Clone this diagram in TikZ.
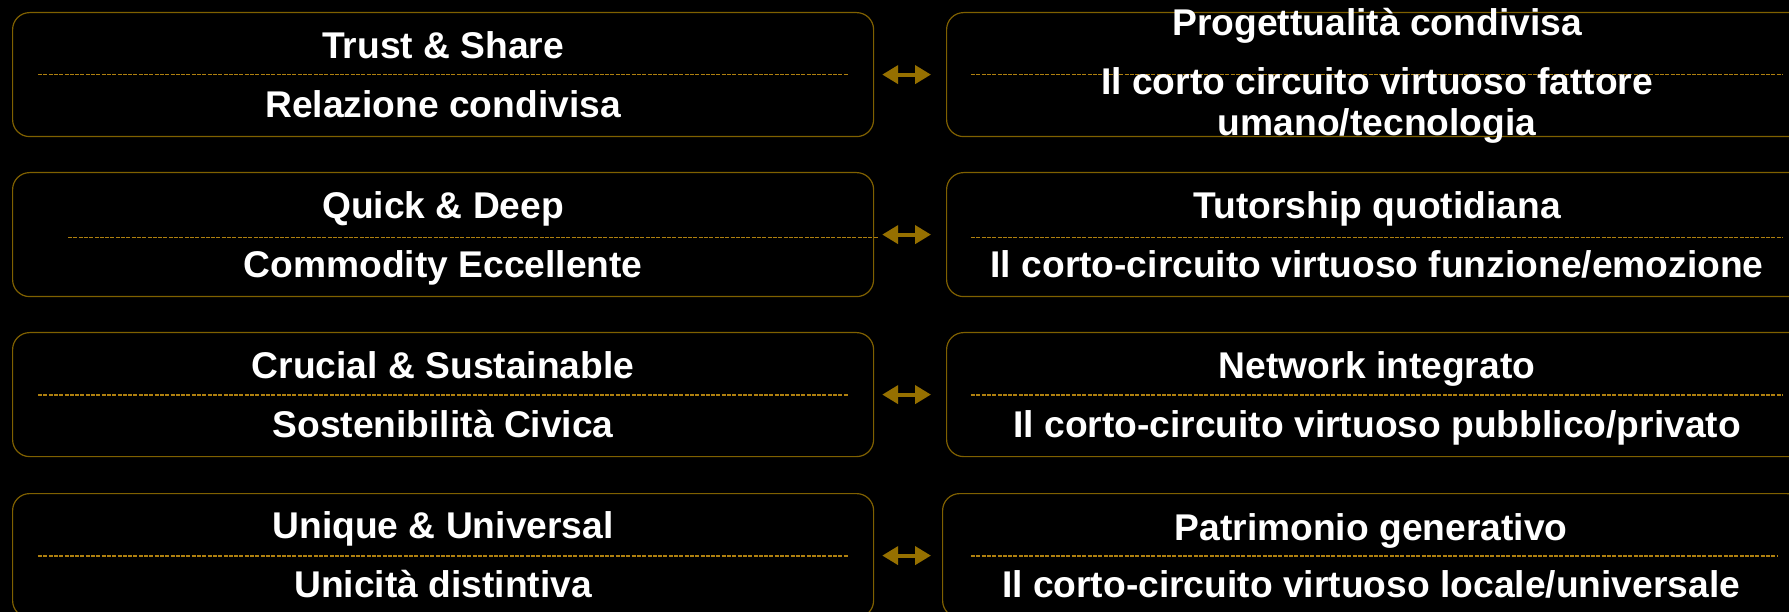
\documentclass[tikz,border=0pt]{standalone}
\usepackage{fontspec}
\setmainfont{Liberation Sans}
\usetikzlibrary{arrows.meta}
\definecolor{gold}{RGB}{127,96,0}
\definecolor{arrgold}{RGB}{150,112,0}
\definecolor{dashgold}{RGB}{175,128,15}
\begin{document}
\begin{tikzpicture}[x=1pt,y=-1pt,
  box/.style={draw=gold, line width=1.2pt, rounded corners=17pt, minimum width=861pt, minimum height=124pt, inner sep=0pt, anchor=north west},
  txt/.style={text=white, font=\fontsize{37.2}{42}\selectfont\bfseries, anchor=base, inner sep=0pt},
  sep/.style={draw=dashgold, line width=1.8pt, dash pattern=on 4pt off 1.3pt},
  link/.style={draw=arrgold, line width=4pt, {Triangle[length=16pt,width=18pt]}-{Triangle[length=16pt,width=18pt]}, shorten <=8pt, shorten >=15pt}]
\clip (0,0) rectangle (1789,612);
\fill[black] (0,0) rectangle (1789,612);
% boxes
\node[box] (L1) at (12,12) {};
\node[box] (L2) at (12,172) {};
\node[box] (L3) at (12,332) {};
\node[box] (L4) at (12,493) {};
\node[box] (R1) at (946,12) {};
\node[box] (R2) at (946,172) {};
\node[box] (R3) at (946,332) {};
\node[box] (R4) at (942,493) {};
% separators
\draw[sep] ([xshift=26pt]L1.west) -- ([xshift=-26pt]L1.east);
\draw[sep] ([xshift=56pt,yshift=-3pt]L2.west) -- ([xshift=4pt,yshift=-3pt]L2.east);
\draw[sep] ([xshift=26pt]L3.west) -- ([xshift=-26pt]L3.east);
\draw[sep] ([xshift=26pt]L4.west) -- ([xshift=-26pt]L4.east);
\draw[sep] ([xshift=25pt]R1.west) -- ([xshift=-26pt]R1.east);
\draw[sep] ([xshift=25pt,yshift=-3pt]R2.west) -- ([xshift=-26pt,yshift=-3pt]R2.east);
\draw[sep] ([xshift=25pt]R3.west) -- ([xshift=-26pt]R3.east);
\draw[sep] ([xshift=29pt]R4.west) -- ([xshift=-26pt]R4.east);
% texts left
\node[txt] (L1a) at ([yshift=16pt]L1.center) {Trust \& Share};
\node[txt] (L1b) at ([yshift=-43pt]L1.center) {Relazione condivisa};
\node[txt] (L2a) at ([yshift=16pt]L2.center) {Quick \& Deep};
\node[txt] (L2b) at ([yshift=-43pt]L2.center) {Commodity Eccellente};
\node[txt] (L3a) at ([yshift=16pt]L3.center) {Crucial \& Sustainable};
\node[txt] (L3b) at ([yshift=-43pt]L3.center) {Sostenibilità Civica};
\node[txt] (L4a) at ([yshift=17pt]L4.center) {Unique \& Universal};
\node[txt] (L4b) at ([yshift=-42pt]L4.center) {Unicità distintiva};
% texts right
\node[txt] (R1a) at ([yshift=39pt]R1.center) {Progettualità condivisa};
\node[txt] (R1b) at ([yshift=-20pt]R1.center) {Il corto circuito virtuoso fattore};
\node[txt] (R1c) at ([yshift=-61pt]R1.center) {umano/tecnologia};
\node[txt] (R2a) at ([yshift=16pt]R2.center) {Tutorship quotidiana};
\node[txt] (R2b) at ([yshift=-43pt]R2.center) {Il corto-circuito virtuoso funzione/emozione};
\node[txt] (R3a) at ([yshift=16pt]R3.center) {Network integrato};
\node[txt] (R3b) at ([yshift=-43pt]R3.center) {Il corto-circuito virtuoso pubblico/privato};
\node[txt] (R4a) at ([xshift=-2pt,yshift=15pt]R4.center) {Patrimonio generativo};
\node[txt] (R4b) at ([xshift=-2pt,yshift=-42pt]R4.center) {Il corto-circuito virtuoso locale/universale};
% connectors
\draw[link] (L1.east) -- (R1.west);
\draw[link] (L2.east) -- (R2.west);
\draw[link] (L3.east) -- (R3.west);
\draw[link, shorten >=11pt] (L4.east) -- (R4.west);
\end{tikzpicture}
\end{document}
